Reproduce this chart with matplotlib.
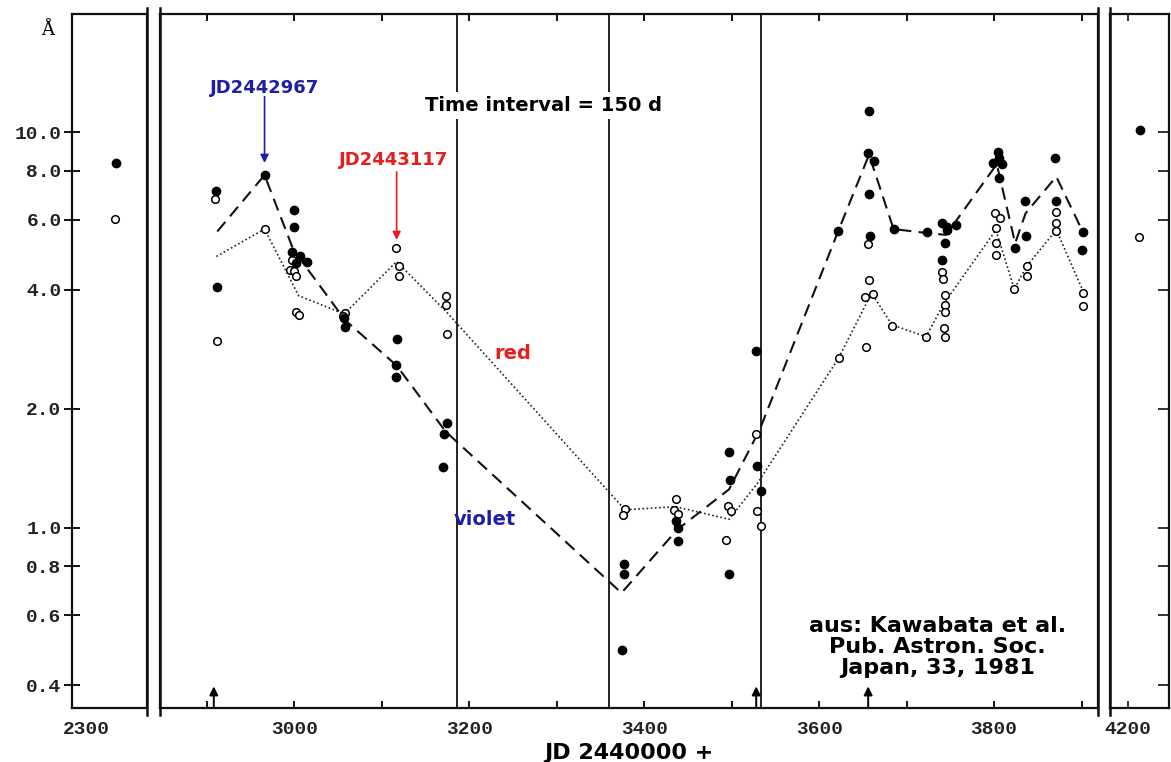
import matplotlib
matplotlib.use("Agg")
import matplotlib.pyplot as plt
from matplotlib.lines import Line2D

# ---------------- data ----------------
violet_jd = [2910, 2912, 2966, 3000, 3000, 2997, 3007, 3002, 3014, 3057, 3058,
             3117, 3116, 3116, 3174, 3171, 3170, 3377, 3377, 3375, 3436, 3439,
             3439, 3497, 3498, 3497, 3528, 3529, 3533, 3622, 3657, 3656, 3663,
             3657, 3658, 3685, 3723, 3740, 3746, 3756, 3746, 3744, 3740, 3804,
             3805, 3799, 3809, 3805, 3835, 3836, 3824, 3870, 3871, 3902, 3900]
violet_A = [7.11, 4.07, 7.79, 6.36, 5.77, 4.99, 4.85, 4.67, 4.70, 3.39, 3.22,
            3.00, 2.58, 2.41, 1.84, 1.73, 1.42, 0.811, 0.764, 0.490, 1.04, 1.00,
            0.923, 1.55, 1.32, 0.764, 2.80, 1.43, 1.24, 5.64, 11.3, 8.85, 8.48,
            6.97, 5.45, 5.69, 5.58, 5.89, 5.77, 5.83, 5.66, 5.24, 4.76, 8.93,
            8.60, 8.35, 8.30, 7.68, 6.68, 5.47, 5.09, 8.63, 6.71, 5.58, 5.04]

red_jd = [2909, 2912, 2966, 2997, 2995, 3000, 3002, 3002, 3005, 3058, 3056,
          3116, 3120, 3120, 3173, 3173, 3174, 3378, 3376, 3436, 3434, 3439,
          3496, 3499, 3493, 3528, 3529, 3534, 3623, 3653, 3656, 3657, 3652,
          3661, 3683, 3722, 3740, 3742, 3744, 3744, 3744, 3743, 3744, 3801,
          3807, 3802, 3802, 3802, 3823, 3837, 3837, 3871, 3871, 3871, 3902, 3901]
red_A = [6.78, 2.97, 5.69, 4.76, 4.49, 4.45, 4.33, 3.52, 3.45, 3.50, 3.43,
         5.09, 4.60, 4.34, 3.86, 3.66, 3.09, 1.115, 1.078, 1.18, 1.106, 1.085,
         1.137, 1.099, 0.929, 1.73, 1.099, 1.008, 2.68, 2.87, 5.21, 4.24, 3.82,
         3.90, 3.24, 3.03, 4.42, 4.25, 3.88, 3.66, 3.52, 3.20, 3.03, 6.24,
         6.06, 5.74, 5.24, 4.88, 4.01, 4.58, 4.34, 6.28, 5.89, 5.63, 3.93, 3.64]

violet_mean_jd = [2912, 2966, 2999, 3058, 3117, 3173, 3374, 3438, 3497, 3532,
                  3622, 3657, 3685, 3723, 3745, 3803, 3824, 3836, 3871, 3902]
violet_mean_A = [5.61, 7.79, 5.04, 3.35, 2.57, 1.75, 0.684, 0.99, 1.25, 1.77,
                 5.64, 8.77, 5.69, 5.56, 5.50, 8.30, 5.24, 6.24, 7.72, 5.56]

red_mean_jd = [2911, 2966, 3005, 3057, 3117, 3174, 3378, 3436, 3497, 3530,
               3622, 3660, 3683, 3722, 3743, 3802, 3823, 3837, 3871, 3902]
red_mean_A = [4.85, 5.69, 3.86, 3.47, 4.71, 3.51, 1.11, 1.13, 1.05, 1.30,
              2.68, 3.92, 3.26, 3.04, 3.70, 5.66, 4.01, 4.58, 5.66, 3.95]

left_violet_jd, left_violet_A = [2334], [8.36]
left_red_jd, left_red_A = [2333], [6.04]
right_violet_jd, right_violet_A = [4214], [10.1]
right_red_jd, right_red_A = [4212], [5.44]

interval_lines_jd = [3186, 3360, 3534]
marker_arrow_jd = [2908, 3528, 3656]

y_ticks = [0.4, 0.6, 0.8, 1.0, 2.0, 4.0, 6.0, 8.0, 10.0]
y_tick_labels = ["0.4", "0.6", "0.8", "1.0", "2.0", "4.0", "6.0", "8.0", "10.0"]
main_minor_ticks = [2900, 3000, 3100, 3200, 3300, 3400, 3500, 3600, 3700, 3800, 3900]
main_label_ticks = [3000, 3200, 3400, 3600, 3800]
left_ticks, right_ticks = [2300], [4200]

# ---------------- figure ----------------
W, H = 1171, 762
fig = plt.figure(figsize=(W / 100, H / 100), dpi=100)
TOP, BOT = 14, 708


def rect(x0, x1):
    return [x0 / W, 1 - BOT / H, (x1 - x0) / W, (BOT - TOP) / H]


axL = fig.add_axes(rect(72, 147))
axM = fig.add_axes(rect(160, 1098))
axR = fig.add_axes(rect(1110, 1169))

YLIM = (0.350, 19.9)
tick_font = dict(family="Liberation Mono", size=14, weight="bold")

for ax in (axL, axM, axR):
    ax.set_yscale("log")
    ax.set_ylim(*YLIM)
    ax.minorticks_off()
    for s in ax.spines.values():
        s.set_linewidth(1.6)
        s.set_color("#111111")
    ax.tick_params(axis="both", which="both", colors="#111111")

axL.set_xlim(2284, 2369.7)
axM.set_xlim(2846.5, 3918.7)
axR.set_xlim(4179.4, 4246.8)

# left panel: y tick labels
axL.set_yticks(y_ticks)
axL.set_yticklabels(y_tick_labels, fontdict=tick_font, color="#222222")
axL.tick_params(axis="y", direction="inout", length=11, width=1.4, pad=2)
axL.set_xticks(left_ticks)
axL.set_xticklabels([str(t) for t in left_ticks], fontdict=tick_font, color="#222222")
axL.tick_params(axis="x", length=0, pad=9)

# main panel
axM.set_yticks([])
axM.set_xticks(main_minor_ticks)
axM.set_xticklabels([str(t) if t in main_label_ticks else "" for t in main_minor_ticks],
                    fontdict=tick_font, color="#222222")
axM.tick_params(axis="x", direction="in", length=5, width=1.4, top=True, pad=9)

# right panel
axR.yaxis.tick_right()
axR.set_yticks(y_ticks)
axR.set_yticklabels([])
axR.tick_params(axis="y", direction="in", length=8, width=1.2)
axR.set_xticks(right_ticks)
axR.set_xticklabels([str(t) for t in right_ticks], fontdict=tick_font, color="#222222")
axR.tick_params(axis="x", direction="in", length=5, width=1.2, top=True, pad=9)

# break lines extending slightly beyond the frame
for xp in (147, 160, 1098, 1110):
    fig.add_artist(Line2D([xp / W, xp / W], [1 - (BOT + 7) / H, 1 - (TOP - 6) / H],
                          color="#111111", lw=1.8, transform=fig.transFigure))

# interval lines
for jd in interval_lines_jd:
    axM.axvline(jd, color="#222222", lw=1.4, zorder=1)

# mean lines
axM.plot(violet_mean_jd, violet_mean_A, color="#111111", lw=1.5,
         linestyle=(0, (6, 3.5)), zorder=2)
axM.plot(red_mean_jd, red_mean_A, color="#222222", lw=1.2,
         linestyle=(0, (1, 1.5)), zorder=2)

ms_f, ms_o = 6, 5.5
kw_f = dict(linestyle="none", marker="o", ms=ms_f, mfc="black", mec="black", zorder=4)
kw_o = dict(linestyle="none", marker="o", ms=ms_o, mfc="white", mec="black", mew=1.1, zorder=3)

axM.plot(red_jd, red_A, **kw_o)
axM.plot(violet_jd, violet_A, **kw_f)
axL.plot(left_red_jd, left_red_A, **kw_o)
axL.plot(left_violet_jd, left_violet_A, **kw_f)
axR.plot(right_red_jd, right_red_A, **kw_o)
axR.plot(right_violet_jd, right_violet_A, **kw_f)

# little upward arrows at the bottom
for jd in marker_arrow_jd:
    axM.annotate("", xy=(jd, 0.397), xytext=(jd, 0.350),
                 arrowprops=dict(arrowstyle="-|>,head_length=0.5,head_width=0.25",
                                 color="black", lw=1.4,
                                 mutation_scale=10, shrinkA=0, shrinkB=0),
                 annotation_clip=False)

# annotations
blue = "#1e1ea6"
red = "#e61e1e"
axM.text(2966, 12.9, "JD2442967", color=blue, fontsize=13, fontweight="bold",
         ha="center", va="center", family="DejaVu Sans")
axM.annotate("", xy=(2966, 8.36), xytext=(2966, 12.3),
             arrowprops=dict(arrowstyle="-|>", color=blue, lw=1.2,
                             mutation_scale=12, shrinkA=0, shrinkB=0))
axM.text(3114, 8.51, "JD2443117", color=red, fontsize=13, fontweight="bold",
         ha="center", va="center", family="DejaVu Sans")
axM.annotate("", xy=(3117, 5.34), xytext=(3117, 7.94),
             arrowprops=dict(arrowstyle="-|>", color=red, lw=1.2,
                             mutation_scale=12, shrinkA=0, shrinkB=0))

axM.text(3285, 11.7, "Time interval = 150 d", color="black", fontsize=14,
         fontweight="bold", ha="center", va="center", family="DejaVu Sans",
         bbox=dict(facecolor="white", edgecolor="none", pad=3), zorder=5)
axM.text(3250, 2.75, "red", color=red, fontsize=14, fontweight="bold",
         ha="center", va="center", family="DejaVu Sans")
axM.text(3218, 1.047, "violet", color=blue, fontsize=14, fontweight="bold",
         ha="center", va="center", family="DejaVu Sans")
axM.text(3735, 0.500, "aus: Kawabata et al.\nPub. Astron. Soc.\nJapan, 33, 1981",
         color="black", fontsize=16, fontweight="bold", ha="center", va="center",
         family="DejaVu Sans", linespacing=1.05, zorder=5)

axM.set_xlabel("JD 2440000 +", fontsize=16, fontweight="bold", family="DejaVu Sans",
               labelpad=4)

fig.text(48 / W, 1 - 30 / H, "Å", family="DejaVu Serif", fontsize=13,
         ha="center", va="center")

fig.savefig("out.png", dpi=100)
